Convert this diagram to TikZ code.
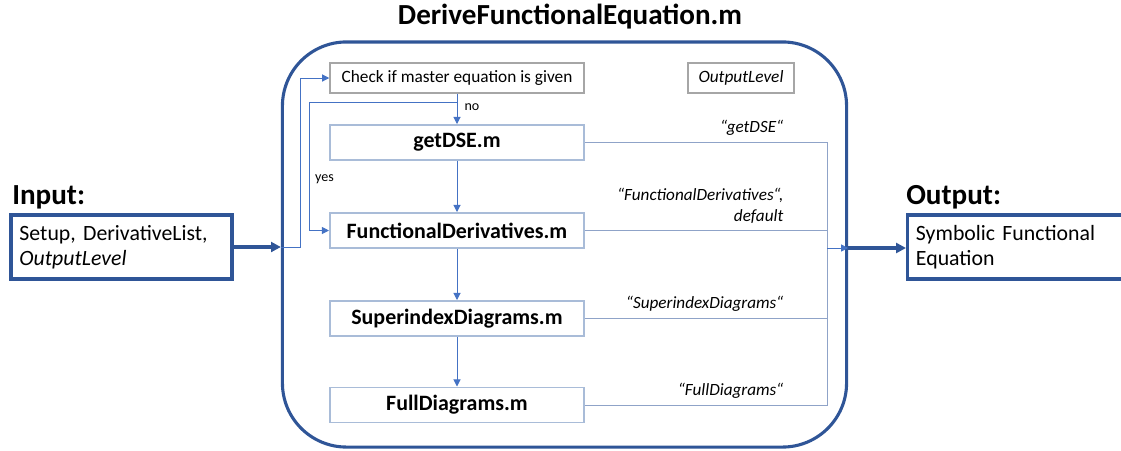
\documentclass[tikz,border=0pt]{standalone}
\usepackage{fontspec}
\setmainfont{Carlito}
\usetikzlibrary{arrows.meta,positioning,calc}

\definecolor{frameblue}{HTML}{2F5597}
\definecolor{flowblue}{HTML}{4472C4}
\definecolor{modborder}{HTML}{A9BCD8}
\definecolor{outline}{HTML}{8FA3C8}
\definecolor{chkgray}{HTML}{A6A6A6}

\begin{document}
\begin{tikzpicture}[
    x=0.025cm, y=-0.025cm,
    >={Triangle[length=5pt,width=5pt]},
    heading/.style={font=\fontsize{20.7}{22}\selectfont\bfseries, inner sep=0pt},
    container/.style={draw=frameblue, line width=2.2pt, rounded corners=1.6cm, minimum width=14.1cm, minimum height=10.125cm},
    iobox/.style={draw=frameblue, line width=2.2pt, minimum height=1.6cm, text width=5.1cm, align=left, inner xsep=6pt, font=\fontsize{15.5}{17.5}\selectfont},
    module/.style={draw=modborder, line width=1.4pt, fill=white, minimum width=6.35cm, minimum height=0.875cm, font=\fontsize{15.6}{17}\selectfont\bfseries},
    check/.style={draw=chkgray, line width=1pt, fill=white, minimum width=6.35cm, minimum height=0.75cm, font=\fontsize{12.3}{14}\selectfont},
    levelbox/.style={draw=chkgray, line width=1pt, minimum width=2.65cm, minimum height=0.75cm, font=\fontsize{12.3}{14}\selectfont\itshape},
    choice/.style={font=\fontsize{12.2}{15}\selectfont\itshape, inner sep=1pt, anchor=south east, align=right},
    decide/.style={font=\fontsize{10}{11}\selectfont, inner sep=1pt},
    flow/.style={draw=flowblue, line width=0.7pt},
    collect/.style={draw=outline, line width=0.7pt},
    thickarrow/.style={draw=frameblue, line width=2.2pt, -{Triangle[length=7pt,width=7pt]}}
]
\clip (0,0) rectangle (1121,450);

% Title and surrounding frame
\node[heading] (title) at (570,17) {DeriveFunctionalEquation.m};
\node[container] (frame) at (564.5,244.5) {};

% Input / Output
\node[heading, anchor=west] (inlabel) at (12,197) {Input:};
\node[iobox] (input) at (121.5,247) {\frenchspacing Setup, DerivativeList,\\ \textit{OutputLevel}};
\node[heading, anchor=west] (outlabel) at (906,197) {Output:};
\node[iobox, anchor=west] (output) at (906,247) {Symbolic Functional\\ Equation};

% Check and modules
\node[check] (check) at (457,78) {Check if master equation is given};
\node[levelbox] (outlvl) at (741,78) {OutputLevel};
\node[module] (getdse) at (457,142.5) {getDSE.m};
\node[module] (funcder) at (457,230.5) {FunctionalDerivatives.m};
\node[module] (supidx) at (457,318.5) {SuperindexDiagrams.m};
\node[module] (fulldiag) at (457,405) {FullDiagrams.m};

% Helper coordinates
\coordinate (split) at (300,247);
\coordinate (yesturn) at (309,102);
\coordinate (bus) at (827,248);

% Input into the frame
\draw[thickarrow] (input.east) -- (input.east -| frame.west);
\draw[flow, ->] (input.east -| frame.west) -- (split) |- (check.west);

% Decision
\draw[flow, ->] (check.south) -- node[decide, right=4pt, pos=0.45] {no} (getdse.north);
\draw[flow, ->] (check.south |- yesturn) -- (yesturn) |- node[decide, pos=0.3, right=3pt] {yes} (funcder.west);

% Module chain
\draw[flow, ->] (getdse) -- (funcder);
\draw[flow, ->] (funcder) -- (supidx);
\draw[flow, ->] (supidx) -- (fulldiag);

% Collecting lines on the right
\draw[collect] (getdse.east) -- (getdse.east -| bus) -- (fulldiag.east -| bus) -- (fulldiag.east);
\draw[collect] (funcder.east) -- (funcder.east -| bus);
\draw[collect] (supidx.east) -- (supidx.east -| bus);
\draw[flow, ->] (bus) -- (bus -| frame.east);
\draw[thickarrow] (bus -| frame.east) -- (output.west |- bus);

% OutputLevel choices
\node[choice] (c1) at (785,137) {“getDSE“};
\node[choice] (c2) at (785,225) {“FunctionalDerivatives“,\\ default};
\node[choice] (c3) at (785,313) {“SuperindexDiagrams“};
\node[choice] (c4) at (785,400) {“FullDiagrams“};

\end{tikzpicture}
\end{document}
